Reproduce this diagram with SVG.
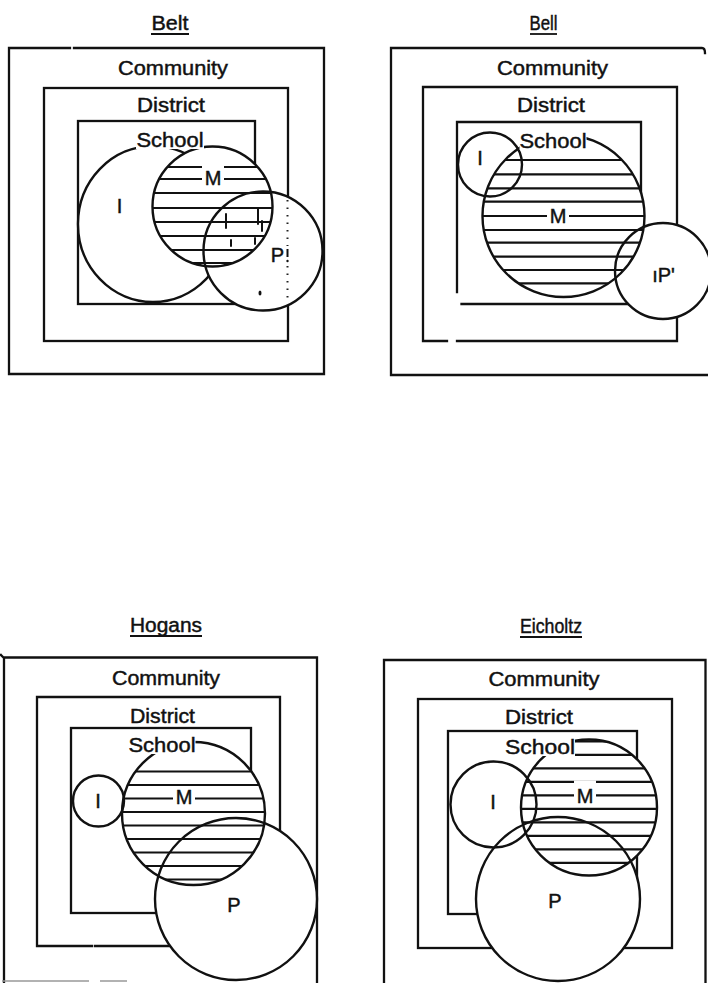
<svg xmlns="http://www.w3.org/2000/svg" width="708" height="983" viewBox="0 0 708 983">
<style>
.box{fill:none;stroke:#111;stroke-width:2.3;stroke-linecap:square;stroke-linejoin:miter}
.cf{fill:#fff;stroke:none}
.co{fill:none;stroke:#111;stroke-width:2.4}
.h line{stroke:#111;stroke-width:2.2}
text{font-family:"Liberation Sans",Arial,sans-serif;font-size:20px;fill:#111;stroke:#111;stroke-width:0.45}
.t{text-anchor:middle}
.ul{stroke:#111;stroke-width:1.8}
.bg{fill:#fff}
.dots{fill:none;stroke:#222;stroke-width:2;stroke-dasharray:1.5 6}
.sp{stroke:#111;stroke-width:2;stroke-linecap:round}
</style>
<defs>
<clipPath id="cBeltM"><circle cx="212.5" cy="206.5" r="60"/></clipPath>
<clipPath id="cBellM"><circle cx="563.5" cy="216" r="81"/></clipPath>
<clipPath id="cHogM"><circle cx="193.5" cy="813.5" r="71.5"/></clipPath>
<clipPath id="cEicM"><circle cx="589" cy="807.5" r="68"/></clipPath>
</defs>
<g id="connectors"/>

<!-- ===== Belt ===== -->
<g id="belt">
<g id="belt-title"><text class="t" x="170" y="30" textLength="37" lengthAdjust="spacingAndGlyphs">Belt</text><line class="ul" x1="151" y1="34" x2="189" y2="34"/></g>
<g id="belt-community"><path class="box" d="M74,48 H324 V374 H9 V48 H70"/><text class="t" x="173" y="75" textLength="110" lengthAdjust="spacingAndGlyphs">Community</text></g>
<g id="belt-district"><rect class="box" x="44" y="88" width="244" height="253"/><text class="t" x="171" y="112" textLength="68" lengthAdjust="spacingAndGlyphs">District</text></g>
<g id="belt-school"><rect class="box" x="78" y="121" width="177" height="183"/></g>
<g id="belt-I"><ellipse class="cf" cx="153" cy="224" rx="75" ry="78"/><ellipse class="co" cx="153" cy="224" rx="75" ry="78"/><text class="t" x="119.5" y="213">I</text></g>
<g id="belt-fills"><circle class="cf" cx="212.5" cy="206.5" r="60"/><circle class="cf" cx="263" cy="251" r="59.5"/></g>
<g id="belt-M">
<g class="h" clip-path="url(#cBeltM)">
<line x1="150" y1="167" x2="275" y2="167"/><line x1="150" y1="179" x2="275" y2="179"/><line x1="150" y1="193" x2="275" y2="193"/><line x1="150" y1="208" x2="275" y2="208"/><line x1="150" y1="222" x2="275" y2="222"/><line x1="150" y1="236" x2="275" y2="236"/><line x1="150" y1="250" x2="275" y2="250"/><line x1="150" y1="263" x2="275" y2="263"/>
</g>
<circle class="co" cx="212.5" cy="206.5" r="60"/>
<rect class="bg" x="202" y="165.5" width="22" height="21.5"/><text class="t" x="213" y="185">M</text>
</g>
<g id="belt-P">
<circle class="co" cx="263" cy="251" r="59.5"/>
<path class="sp" d="M258,209 V224 M226,214 V228 M231,240 V246 M255,238 V244 M262,221 V231"/>
<line class="dots" x1="287.5" y1="200" x2="287.5" y2="246"/><line class="dots" x1="287.5" y1="266" x2="287.5" y2="300"/>
<line x1="287.5" y1="249" x2="287.5" y2="257" stroke="#111" stroke-width="2"/><circle cx="287.5" cy="261" r="1.2" fill="#111"/>
<ellipse cx="260" cy="293" rx="1.5" ry="2.5" fill="#111"/>
<text class="t" x="277.5" y="262">P</text>
</g>
<g id="belt-school-label"><rect class="bg" x="136" y="131" width="68" height="18"/><text class="t" x="170" y="147" textLength="67" lengthAdjust="spacingAndGlyphs">School</text></g>
</g>

<!-- ===== Bell ===== -->
<g id="bell">
<g id="bell-title"><text class="t" x="543.5" y="30" textLength="28" lengthAdjust="spacingAndGlyphs">Bell</text><line class="ul" x1="530" y1="34" x2="557" y2="34"/></g>
<g id="bell-community"><path class="box" d="M391,375 V48 H702 Q705,48 705,53 M391,375 H708"/><text class="t" x="552.5" y="75" textLength="111" lengthAdjust="spacingAndGlyphs">Community</text></g>
<g id="bell-district"><path class="box" d="M447,341 H423 V87 H677 V341 H457"/><text class="t" x="551" y="112" textLength="68" lengthAdjust="spacingAndGlyphs">District</text></g>
<g id="bell-school"><path class="box" d="M457,292 V122 H641 V304 H461.5"/></g>
<g id="bell-fills"><circle class="cf" cx="490" cy="164.5" r="32"/><circle class="cf" cx="563.5" cy="216" r="81"/><circle class="cf" cx="663" cy="271" r="48"/></g>
<g id="bell-M">
<g class="h" clip-path="url(#cBellM)">
<line x1="480" y1="160" x2="647" y2="160"/><line x1="480" y1="174.3" x2="647" y2="174.3"/><line x1="480" y1="188.3" x2="647" y2="188.3"/><line x1="480" y1="201.7" x2="647" y2="201.7"/><line x1="480" y1="216" x2="647" y2="216"/><line x1="480" y1="230" x2="647" y2="230"/><line x1="480" y1="242.7" x2="647" y2="242.7"/><line x1="480" y1="256.7" x2="647" y2="256.7"/><line x1="480" y1="270" x2="647" y2="270"/><line x1="480" y1="283.3" x2="647" y2="283.3"/>
</g>
<circle class="co" cx="563.5" cy="216" r="81"/>
<rect class="bg" x="547" y="206" width="22" height="19.5"/><text class="t" x="558" y="223">M</text>
</g>
<g id="bell-I"><circle class="co" cx="490" cy="164.5" r="32"/><text class="t" x="480" y="165">I</text></g>
<g id="bell-P"><circle class="co" cx="663" cy="271" r="48"/><text class="t" x="663.5" y="282">ıP'</text></g>
<g id="bell-school-label"><rect class="bg" x="519.5" y="132.5" width="67" height="17"/><text class="t" x="553" y="148" textLength="67" lengthAdjust="spacingAndGlyphs">School</text></g>
</g>

<!-- ===== Hogans ===== -->
<g id="hogans">
<g id="hogans-title"><text class="t" x="166" y="632" textLength="72" lengthAdjust="spacingAndGlyphs">Hogans</text><line class="ul" x1="130" y1="636" x2="202" y2="636"/></g>
<g id="hogans-community"><path class="box" d="M1,655 L4,658 M4,983 V657.5 H317 V983"/><path d="M2,981 H89 M100,981 H127" stroke="#999" stroke-width="1.5" fill="none"/><text class="t" x="166" y="685" textLength="108" lengthAdjust="spacingAndGlyphs">Community</text></g>
<g id="hogans-district"><path class="box" d="M95,946 H280 V697 H37 V946 H92"/><text class="t" x="162.5" y="723" textLength="65" lengthAdjust="spacingAndGlyphs">District</text></g>
<g id="hogans-school"><rect class="box" x="71" y="728" width="180" height="185"/></g>
<g id="hogans-fills"><circle class="cf" cx="98.5" cy="801" r="25.5"/><circle class="cf" cx="193.5" cy="813.5" r="71.5"/><circle class="cf" cx="236" cy="899" r="81"/></g>
<g id="hogans-M">
<g class="h" clip-path="url(#cHogM)">
<line x1="120" y1="771.5" x2="267" y2="771.5"/><line x1="120" y1="785" x2="267" y2="785"/><line x1="120" y1="798.5" x2="267" y2="798.5"/><line x1="120" y1="812" x2="267" y2="812"/><line x1="120" y1="825.5" x2="267" y2="825.5"/><line x1="120" y1="839" x2="267" y2="839"/><line x1="120" y1="852.5" x2="267" y2="852.5"/><line x1="120" y1="866" x2="267" y2="866"/><line x1="120" y1="879.5" x2="267" y2="879.5"/>
</g>
<circle class="co" cx="193.5" cy="813.5" r="71.5"/>
<rect class="bg" x="173" y="787.5" width="22" height="19"/><text class="t" x="184" y="804">M</text>
</g>
<g id="hogans-I"><circle class="co" cx="98.5" cy="801" r="25.5"/><text class="t" x="98" y="808">I</text></g>
<g id="hogans-P"><circle class="co" cx="236" cy="899" r="81"/><text class="t" x="234" y="912">P</text></g>
<g id="hogans-school-label"><rect class="bg" x="128.5" y="736.5" width="67" height="17.5"/><text class="t" x="162" y="752" textLength="67" lengthAdjust="spacingAndGlyphs">School</text></g>
</g>

<!-- ===== Eicholtz ===== -->
<g id="eicholtz">
<g id="eicholtz-title"><text class="t" x="551" y="633" textLength="62" lengthAdjust="spacingAndGlyphs">Eicholtz</text><line class="ul" x1="520" y1="637" x2="582" y2="637"/></g>
<g id="eicholtz-community"><path class="box" d="M384,983 V660 H705.5 V983"/><text class="t" x="544" y="686" textLength="111" lengthAdjust="spacingAndGlyphs">Community</text></g>
<g id="eicholtz-district"><rect class="box" x="418" y="699" width="254" height="249"/><text class="t" x="539" y="723.5" textLength="68" lengthAdjust="spacingAndGlyphs">District</text></g>
<g id="eicholtz-school"><rect class="box" x="448" y="731" width="189" height="183"/></g>
<g id="eicholtz-fills"><circle class="cf" cx="493.5" cy="804.5" r="43"/><circle class="cf" cx="589" cy="807.5" r="68"/><circle class="cf" cx="558" cy="899" r="82"/></g>
<g id="eicholtz-M">
<g class="h" clip-path="url(#cEicM)">
<line x1="519" y1="741.3" x2="659" y2="741.3"/><line x1="519" y1="754.8" x2="659" y2="754.8"/><line x1="519" y1="768.3" x2="659" y2="768.3"/><line x1="519" y1="781.8" x2="659" y2="781.8"/><line x1="519" y1="795.3" x2="659" y2="795.3"/><line x1="519" y1="808.8" x2="659" y2="808.8"/><line x1="519" y1="822.3" x2="659" y2="822.3"/><line x1="519" y1="835.8" x2="659" y2="835.8"/><line x1="519" y1="849.3" x2="659" y2="849.3"/><line x1="519" y1="862.8" x2="659" y2="862.8"/>
</g>
<circle class="co" cx="589" cy="807.5" r="68"/>
<rect class="bg" x="574" y="780.5" width="22" height="24.5"/><text class="t" x="585" y="803">M</text>
</g>
<g id="eicholtz-I"><circle class="co" cx="493.5" cy="804.5" r="43"/><text class="t" x="493" y="809">I</text></g>
<g id="eicholtz-P"><circle class="co" cx="558" cy="899" r="82"/><text class="t" x="555" y="908">P</text></g>
<g id="eicholtz-school-label"><rect class="bg" x="505" y="738.5" width="70" height="17.5"/><text class="t" x="540" y="754" textLength="70" lengthAdjust="spacingAndGlyphs">School</text></g>
</g>
</svg>
